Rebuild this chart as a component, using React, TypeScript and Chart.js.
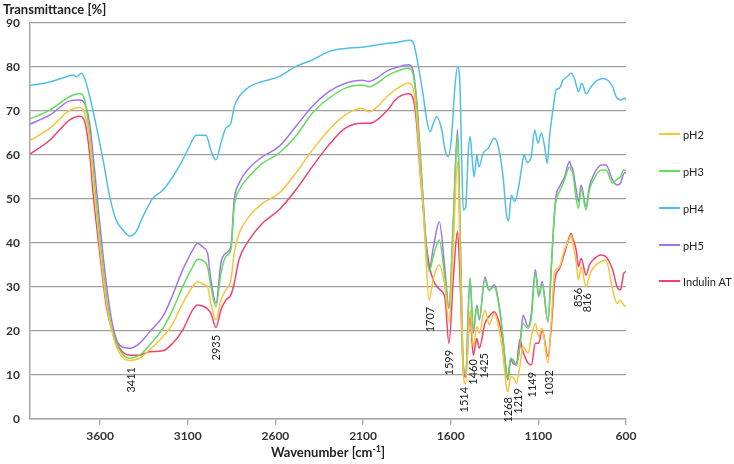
import React, { useEffect, useRef } from 'react';
import { Chart, registerables } from 'chart.js';

Chart.register(...registerables);

// Shared wavenumber grid for pH2, pH3, pH5 and Indulin AT (cm-1)
const wnMain = [4000, 3886, 3773, 3716, 3688, 3659, 3640, 3602, 3564, 3527, 3489, 3432, 3375, 3318, 3242, 3186, 3129, 3072, 3044, 3006, 2987, 2968, 2939, 2911, 2883, 2854, 2835, 2807, 2750, 2674, 2580, 2485, 2390, 2295, 2201, 2106, 2068, 1954, 1917, 1841, 1812, 1793, 1774, 1756, 1746, 1723, 1699, 1665, 1633, 1610, 1585, 1561, 1545, 1528, 1515, 1490, 1471, 1451, 1437, 1405, 1381, 1352, 1320, 1301, 1282, 1274, 1258, 1244, 1225, 1206, 1187, 1159, 1140, 1117, 1098, 1078, 1045, 1026, 1008, 998, 979, 951, 922, 913, 903, 884, 871, 856, 828, 809, 790, 742, 714, 676, 651, 632, 613, 600];

const pH2 = [63.3, 66.1, 70.2, 70.8, 69.5, 63.0, 54.3, 39.2, 26.3, 19.0, 14.9, 13.3, 13.8, 15.7, 18.7, 21.7, 26.3, 30.1, 31.2, 30.5, 30.0, 26.3, 22.5, 27.0, 29.3, 31.6, 37.7, 42.2, 46.0, 49.0, 51.3, 55.8, 61.1, 65.7, 69.1, 70.6, 69.8, 73.6, 74.8, 76.3, 74.8, 68.0, 56.6, 47.0, 40.0, 27.0, 32.0, 35.0, 30.0, 22.0, 40.0, 58.5, 35.0, 10.0, 8.0, 24.8, 16.4, 21.0, 19.5, 24.8, 21.4, 24.0, 19.5, 14.2, 7.3, 6.2, 9.6, 9.5, 8.1, 11.9, 16.4, 14.9, 18.7, 21.7, 18.7, 20.6, 12.7, 22.5, 33.1, 34.0, 34.6, 38.4, 41.0, 41.8, 40.0, 35.4, 31.6, 34.6, 30.1, 32.5, 34.2, 35.8, 36.1, 29.3, 26.3, 27.0, 25.9, 25.5];

const pH3 = [68.2, 70.2, 73.3, 74.0, 72.5, 64.5, 56.6, 41.4, 27.8, 19.5, 15.7, 13.8, 14.5, 16.8, 20.6, 24.8, 30.1, 34.6, 36.3, 35.8, 34.6, 30.1, 25.5, 33.1, 36.9, 38.4, 48.3, 52.0, 55.1, 58.1, 60.4, 64.2, 69.5, 72.9, 75.2, 75.9, 75.5, 78.2, 78.9, 79.7, 77.8, 71.0, 59.6, 48.5, 42.0, 33.5, 37.0, 40.7, 32.0, 25.2, 45.0, 64.5, 40.0, 12.0, 10.5, 32.0, 20.2, 25.5, 22.9, 31.6, 29.3, 30.0, 24.5, 18.0, 10.4, 9.2, 13.8, 13.5, 12.3, 16.4, 21.7, 20.6, 22.9, 33.1, 27.8, 30.5, 22.1, 34.6, 46.7, 49.8, 51.7, 54.3, 57.3, 56.5, 55.8, 50.0, 47.9, 52.4, 47.5, 52.0, 54.0, 56.6, 56.6, 53.6, 54.5, 55.0, 56.6, 56.5];

const pH5 = [67.0, 69.1, 72.3, 72.5, 71.7, 67.0, 60.0, 44.5, 30.5, 21.0, 16.8, 16.1, 17.2, 19.8, 23.3, 28.2, 33.9, 38.4, 39.9, 38.8, 37.7, 31.6, 26.3, 35.4, 37.7, 39.2, 49.8, 53.6, 57.0, 59.6, 61.9, 66.4, 71.0, 74.4, 76.3, 77.0, 76.7, 79.3, 79.8, 80.5, 78.6, 71.7, 60.4, 49.0, 43.0, 34.0, 39.0, 44.8, 34.0, 25.2, 45.0, 65.8, 40.0, 12.0, 10.5, 32.0, 19.5, 25.9, 22.5, 32.3, 29.3, 30.5, 24.8, 18.0, 10.4, 9.2, 13.8, 12.7, 12.3, 16.4, 23.6, 21.0, 24.0, 33.9, 28.2, 31.2, 22.1, 34.6, 46.7, 50.9, 52.8, 55.0, 58.5, 57.5, 56.6, 52.0, 49.4, 53.2, 48.3, 52.8, 55.0, 57.7, 57.7, 54.3, 53.2, 53.5, 55.8, 56.0];

const indulinAT = [60.2, 63.4, 68.0, 68.8, 67.6, 60.0, 51.3, 37.7, 25.5, 19.5, 16.1, 14.5, 14.5, 15.3, 15.5, 17.2, 20.2, 24.8, 25.9, 25.5, 25.0, 24.0, 20.8, 24.8, 27.0, 28.2, 30.8, 36.3, 40.7, 44.5, 47.5, 52.0, 57.3, 62.3, 66.1, 67.2, 67.2, 70.5, 72.5, 73.9, 72.5, 66.4, 55.8, 47.5, 42.0, 35.0, 31.5, 29.5, 27.5, 17.2, 32.0, 42.6, 30.0, 11.0, 9.5, 23.3, 14.5, 18.3, 16.1, 21.7, 23.3, 24.4, 21.4, 17.2, 10.4, 8.9, 13.4, 12.7, 12.3, 18.0, 15.3, 12.7, 12.3, 17.2, 17.2, 20.2, 14.2, 21.0, 30.8, 33.0, 34.2, 37.7, 41.5, 42.2, 41.0, 38.4, 34.6, 36.5, 32.7, 35.0, 36.1, 37.3, 36.9, 33.9, 30.1, 29.3, 33.1, 33.5];

// pH4 has its own sampling grid
const wnPH4 = [4000, 3886, 3792, 3754, 3735, 3706, 3688, 3659, 3621, 3583, 3545, 3508, 3470, 3432, 3394, 3356, 3299, 3242, 3186, 3129, 3091, 3053, 3015, 2996, 2968, 2939, 2911, 2883, 2854, 2835, 2807, 2750, 2674, 2580, 2485, 2390, 2295, 2201, 2106, 1954, 1917, 1831, 1812, 1784, 1756, 1737, 1718, 1699, 1680, 1651, 1632, 1614, 1595, 1576, 1561, 1547, 1538, 1528, 1515, 1500, 1489, 1477, 1466, 1451, 1439, 1415, 1386, 1352, 1329, 1301, 1282, 1270, 1254, 1235, 1216, 1197, 1182, 1163, 1140, 1121, 1102, 1083, 1064, 1049, 1036, 1017, 998, 979, 960, 932, 913, 894, 871, 852, 828, 799, 761, 733, 704, 676, 657, 629, 610, 600];

const pH4 = [75.8, 76.6, 77.8, 78.2, 77.8, 78.6, 77.4, 73.3, 66.4, 58.9, 50.5, 45.2, 43.0, 41.6, 42.6, 46.0, 50.2, 52.0, 55.0, 58.9, 61.9, 64.5, 64.5, 64.5, 61.1, 58.9, 62.7, 66.1, 67.2, 71.0, 73.3, 75.5, 76.7, 77.8, 80.1, 81.6, 83.5, 84.2, 84.5, 85.4, 85.5, 86.1, 85.4, 80.1, 73.3, 68.0, 65.3, 67.2, 68.7, 65.7, 61.1, 59.6, 64.2, 75.5, 80.1, 75.5, 60.4, 47.5, 48.0, 60.4, 64.2, 58.9, 55.0, 60.0, 57.3, 60.4, 61.5, 63.8, 62.0, 55.0, 46.5, 45.0, 50.9, 49.4, 52.0, 56.6, 60.0, 58.3, 59.8, 65.7, 62.7, 65.0, 61.9, 58.1, 64.2, 70.2, 74.8, 75.2, 77.0, 77.9, 78.6, 77.4, 74.4, 76.3, 73.9, 75.5, 77.0, 77.4, 77.0, 75.5, 73.3, 72.5, 72.9, 72.5];

const seriesNames = ['pH2', 'pH3', 'pH4', 'pH5', 'Indulin AT'];
const seriesColors = ['#F8C43A', '#62DE5A', '#50BFE8', '#A274EA', '#F0426C'];

const xTickValues = [3600, 3100, 2600, 2100, 1600, 1100, 600];

// Peak annotations: label, wavenumber position, top of text (in % T)
const peakLabels = ['3411', '2935', '1707', '1599', '1514', '1460', '1425', '1268', '1219', '1149', '1032', '856', '816'];
const peakWn = [3420, 2937, 1716, 1608, 1523, 1471, 1409, 1273, 1216, 1136, 1034, 869, 818];
const peakTop = [11.8, 19.1, 25.5, 15.7, 7.3, 13.6, 15.0, 5.0, 7.0, 10.7, 11.1, 29.8, 28.6];

const FONT = 'Lato, "Open Sans", "DejaVu Sans", sans-serif';

export default function App() {
  const ref = useRef<HTMLCanvasElement>(null);

  useEffect(() => {
    const pts = (wn: number[], v: number[]) => wn.map((x, i) => ({ x, y: v[i] }));
    const values = [pH2, pH3, pH4, pH5, indulinAT];
    const datasets = values.map((v, i) => ({
      label: seriesNames[i],
      data: pts(i === 2 ? wnPH4 : wnMain, v),
      borderColor: seriesColors[i],
      backgroundColor: seriesColors[i],
      borderWidth: 1.5,
      pointRadius: 0,
      fill: false,
      cubicInterpolationMode: 'monotone' as const,
    }));

    const overlay = {
      id: 'overlay',
      afterDraw(chart: any) {
        const ctx = chart.ctx;
        const xs = chart.scales.x;
        const ys = chart.scales.y;
        ctx.save();
        // peak labels
        ctx.fillStyle = '#222';
        ctx.font = `11px ${FONT}`;
        ctx.textAlign = 'right';
        ctx.textBaseline = 'middle';
        peakLabels.forEach((t, i) => {
          const px = xs.getPixelForValue(peakWn[i]);
          const py = ys.getPixelForValue(peakTop[i]);
          ctx.save();
          ctx.translate(px, py);
          ctx.rotate(-Math.PI / 2);
          ctx.fillText(t, 0, 0);
          ctx.restore();
        });
        // y title
        ctx.fillStyle = '#222';
        ctx.font = `bold 13px ${FONT}`;
        ctx.textAlign = 'left';
        ctx.textBaseline = 'middle';
        ctx.fillText('Transmittance [%]', 3, 10);
        // x title with superscript
        const a = 'Wavenumber [cm';
        const sup = '-1';
        const b = ']';
        ctx.font = `bold 13px ${FONT}`;
        const wa = ctx.measureText(a).width;
        const wb = ctx.measureText(b).width;
        ctx.font = `bold 9px ${FONT}`;
        const ws = ctx.measureText(sup).width;
        const cx = (chart.chartArea.left + chart.chartArea.right) / 2;
        let sx = cx - (wa + ws + wb) / 2;
        const ty = 453;
        ctx.font = `bold 13px ${FONT}`;
        ctx.fillText(a, sx, ty);
        sx += wa;
        ctx.font = `bold 9px ${FONT}`;
        ctx.fillText(sup, sx, ty - 4);
        sx += ws;
        ctx.font = `bold 13px ${FONT}`;
        ctx.fillText(b, sx, ty);
        // legend
        const legY = [134, 171, 208, 245, 281];
        ctx.font = `11px ${FONT}`;
        seriesNames.forEach((n, i) => {
          ctx.strokeStyle = seriesColors[i];
          ctx.lineWidth = 2;
          ctx.beginPath();
          ctx.moveTo(659, legY[i]);
          ctx.lineTo(680, legY[i]);
          ctx.stroke();
          ctx.fillStyle = '#222';
          ctx.fillText(n, 683, legY[i] + 1);
        });
        ctx.restore();
      },
    };

    const chart = new Chart(ref.current as HTMLCanvasElement, {
      type: 'line',
      data: { datasets: datasets as any },
      options: {
        animation: false,
        responsive: false,
        maintainAspectRatio: false,
        layout: { padding: { top: 23, right: 108, left: 0, bottom: 0 } },
        plugins: { legend: { display: false }, tooltip: { enabled: false } },
        scales: {
          x: {
            type: 'linear',
            reverse: true,
            min: 600,
            max: 4000,
            afterBuildTicks: (s: any) => {
              s.ticks = xTickValues.map((v) => ({ value: v }));
            },
            afterFit: (s: any) => {
              s.height = 45;
            },
            grid: { drawOnChartArea: false, drawTicks: true, tickLength: 6, color: '#a6a6a6', lineWidth: 1.3 },
            border: { color: '#a6a6a6', width: 1.5 },
            ticks: {
              autoSkip: false,
              maxRotation: 0,
              padding: 4,
              color: '#333',
              font: { family: FONT, size: 12, weight: 'bold' },
              callback: (v: any) => String(v),
            },
          },
          y: {
            min: 0,
            max: 90,
            afterFit: (s: any) => {
              s.width = 30;
            },
            grid: { color: '#a0a0a0', lineWidth: 1.3, drawTicks: false },
            border: { color: '#a6a6a6', width: 1.5 },
            ticks: {
              stepSize: 10,
              padding: 10,
              color: '#333',
              font: { family: FONT, size: 12, weight: 'bold' },
              callback: (v: any) => String(v),
            },
          },
        },
      } as any,
      plugins: [overlay],
    });
    return () => chart.destroy();
  }, []);

  return (
    <div style={{ position: 'fixed', left: 0, top: 0, width: 734, height: 464, background: '#fff' }}>
      <canvas ref={ref} width={734} height={464} style={{ width: 734, height: 464, display: 'block' }} />
    </div>
  );
}
